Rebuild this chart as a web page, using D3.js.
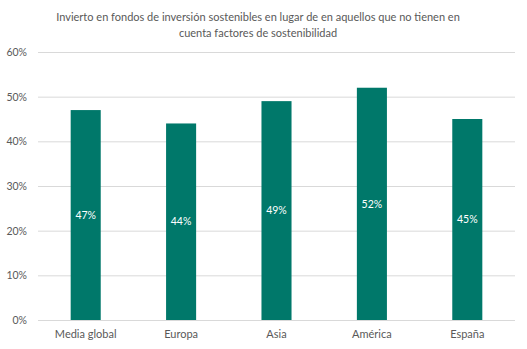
<!DOCTYPE html>
<html>
<head>
<meta charset="utf-8">
<script src="https://cdn.jsdelivr.net/npm/d3@7"></script>
<style>
  html, body { margin: 0; padding: 0; background: #fff; }
  svg { display: block; }
  text { font-family: Lato, "Open Sans", sans-serif; }
</style>
</head>
<body>
<svg id="chart" width="527" height="349"></svg>
<script>
const titleLines = [
  "Invierto en fondos de inversión sostenibles en lugar de en aquellos que no tienen en",
  "cuenta factores de sostenibilidad"
];
const categories = ["Media global", "Europa", "Asia", "América", "España"];
const values = [0.47, 0.44, 0.49, 0.52, 0.45];
const yTicks = [0, 0.1, 0.2, 0.3, 0.4, 0.5, 0.6];

const svg = d3.select("#chart");
const plot = { left: 38, right: 515, top: 52, bottom: 320 };
const fontStack = "Lato, 'Open Sans', sans-serif";

const x = d3.scaleBand().domain(categories).range([plot.left, plot.right]).padding(0);
const y = d3.scaleLinear().domain([0, 0.6]).range([plot.bottom, plot.top]);
const barW = x.bandwidth() * 0.315;
const fmt = d3.format(".0%");

// title
svg.append("g").selectAll("text").data(titleLines).join("text")
  .attr("x", 258).attr("y", (d, i) => 21 + i * 16)
  .attr("text-anchor", "middle")
  .attr("font-size", 11).attr("fill", "#595959")
  .text(d => d);

// gridlines + y labels
const yAxis = d3.axisLeft(y).tickValues(yTicks).tickFormat(fmt)
  .tickSize(-(plot.right - plot.left)).tickPadding(11);
const gy = svg.append("g").attr("transform", `translate(${plot.left},0)`).call(yAxis);
gy.select(".domain").remove();
gy.selectAll(".tick line").attr("stroke", "#d9d9d9").attr("stroke-width", 1);
gy.selectAll(".tick text").attr("fill", "#595959").attr("font-size", 10.5)
  .style("font-family", fontStack);

// bars
svg.append("g").selectAll("rect").data(values).join("rect")
  .attr("x", (d, i) => x(categories[i]) + x.bandwidth() / 2 - barW / 2)
  .attr("width", barW)
  .attr("y", d => y(d))
  .attr("height", d => y(0) - y(d))
  .attr("fill", "#00786A");

// value labels
svg.append("g").selectAll("text").data(values).join("text")
  .attr("x", (d, i) => x(categories[i]) + x.bandwidth() / 2)
  .attr("y", d => (y(d) + y(0)) / 2)
  .attr("dy", "0.35em")
  .attr("text-anchor", "middle")
  .attr("font-size", 10.5).attr("fill", "#ffffff")
  .text(d => fmt(d));

// x axis labels
const xAxis = d3.axisBottom(x).tickSize(0).tickPadding(10);
const gx = svg.append("g").attr("transform", `translate(0,${plot.bottom})`).call(xAxis);
gx.select(".domain").remove();
gx.selectAll(".tick text").attr("fill", "#595959").attr("font-size", 11)
  .style("font-family", fontStack);
</script>
</body>
</html>
